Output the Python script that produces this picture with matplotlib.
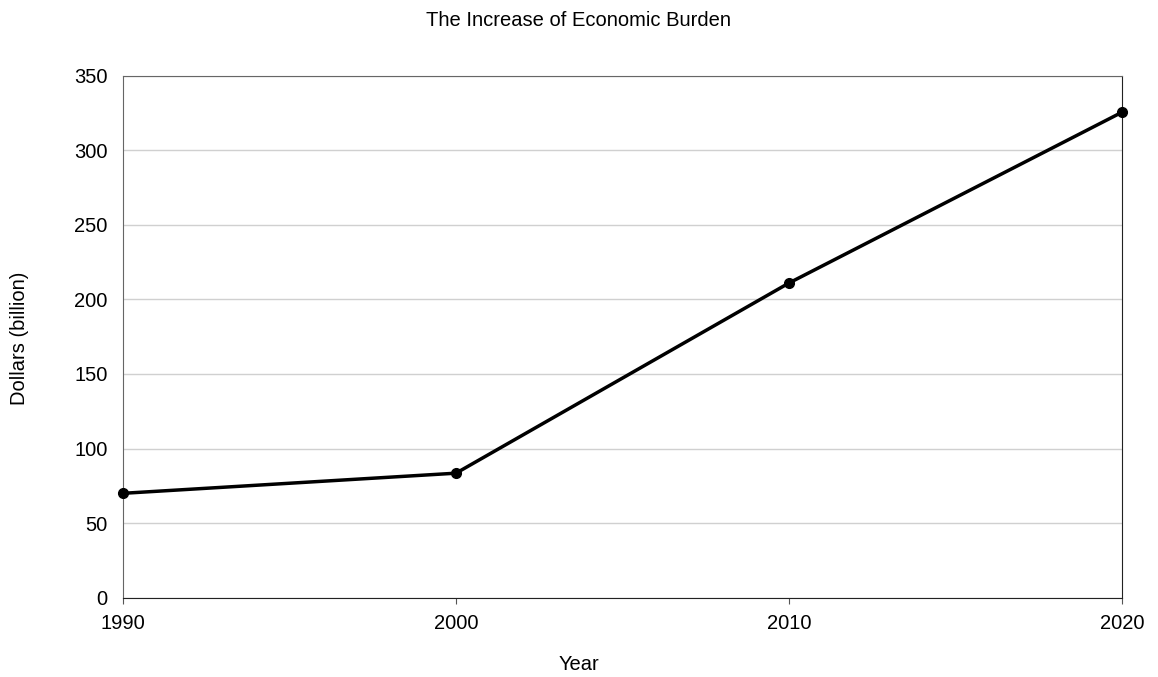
import matplotlib
matplotlib.use("Agg")
import matplotlib.pyplot as plt

plt.rcParams['font.family'] = ['Liberation Sans', 'DejaVu Sans']

# Economic burden by decade, in billions of dollars
years = [1990, 2000, 2010, 2020]
dollars = [70, 83.5, 211, 325.5]
yticks = [0, 50, 100, 150, 200, 250, 300, 350]

fig = plt.figure(figsize=(11.58, 6.77), dpi=100)
ax = fig.add_axes([0.1062, 0.1171, 0.8627, 0.7711])

ax.plot(years, dollars, color='black', linewidth=2.5, marker='o', markersize=7, clip_on=False, zorder=3)

ax.set_xlim(1990, 2020)
ax.set_ylim(0, 350)
ax.set_xticks(years)
ax.set_yticks(yticks)
ax.tick_params(axis='both', labelsize=14.5, color='#555555')
ax.tick_params(axis='x', length=4.5, pad=7.5)
ax.tick_params(axis='y', length=0, pad=11)
ax.grid(axis='y', color='#d0d0d0', linewidth=1)
ax.set_axisbelow(True)

for side in ['left', 'top']:
    ax.spines[side].set_color('#666666')
for side in ['right', 'bottom']:
    ax.spines[side].set_color('#222222')

fig.text(0.5, 0.97, 'The Increase of Economic Burden', ha='center', va='center', fontsize=14.5)
fig.text(0.5, 0.018, 'Year', ha='center', va='center', fontsize=14.5)
fig.text(0.017, 0.5, 'Dollars (billion)', ha='center', va='center', rotation=90, fontsize=14.5)

fig.savefig('out.png', dpi=100)
